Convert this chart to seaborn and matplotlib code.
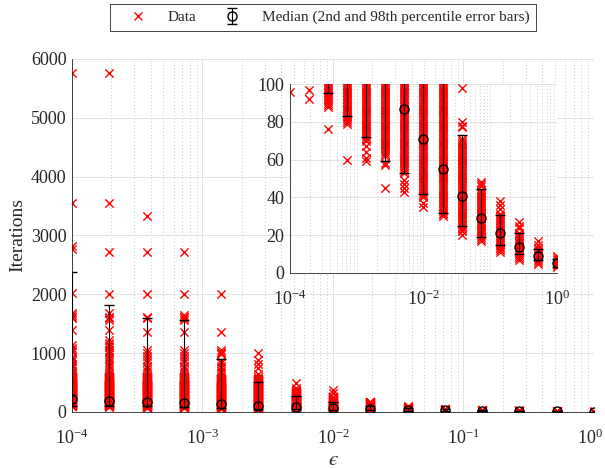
import numpy as np
import pandas as pd
import matplotlib
matplotlib.use('Agg')
import matplotlib.pyplot as plt
import seaborn as sns
from matplotlib.lines import Line2D
from matplotlib.ticker import LogLocator, NullFormatter
from matplotlib.transforms import ScaledTranslation

# Tolerance values (x axis)
eps = [1e-4, 1.93e-4, 3.73e-4, 7.2e-4, 1.39e-3, 2.68e-3, 5.18e-3, 1e-2,
       1.93e-2, 3.73e-2, 7.2e-2, 0.139, 0.268, 0.518, 1.0]

# Range of iteration counts where every integer count shows up (solid red bands)
dense_lo = [104, 103, 88, 79, 70, 62, 53, 40, 32, 24, 17, 11, 7, 5, 3]
dense_hi = [600, 600, 600, 600, 570, 560, 340, 260, 175, 71, 44, 31, 21, 13, 7]

# Isolated runs outside the solid bands
sparse = [
    [96, 630, 660, 700, 740, 780, 820, 860, 900, 940, 1025, 1054, 1088, 1139,
     1394, 1600, 1620, 1650, 1680, 2020, 2766, 2822, 3548, 5757],
    [92, 97, 630, 670, 710, 760, 800, 850, 900, 940, 980, 1020, 1060, 1100,
     1139, 1180, 1224, 1394, 1560, 1600, 1620, 1680, 2000, 2714, 3548, 5757],
    [76, 640, 690, 740, 790, 850, 900, 950, 1000, 1050, 1365, 1600, 1620,
     2000, 2714, 3338],
    [60, 640, 690, 740, 790, 850, 900, 950, 1000, 1050, 1365, 1560, 1600,
     1620, 1650, 2000, 2714],
    [59, 61, 64, 67, 620, 660, 700, 740, 790, 830, 870, 980, 1000, 1020,
     1050, 1365, 2000],
    [45, 57, 58, 600, 650, 754, 821, 884, 1000],
    [43, 45, 47, 49, 380, 403, 488],
    [35, 37, 317, 374],
    [30, 31],
    [20, 22, 23, 77, 78, 80, 98],
    [46, 47, 48],
    [34, 36, 38],
    [24, 25, 27],
    [15, 17],
    [8, 9],
]

# Median and 2nd / 98th percentiles
medians = [221, 193, 164, 147, 130, 105, 87, 71, 55, 41, 29, 21, 14, 9, 5.5]
p2 = [107, 104, 95, 83, 72, 59, 53, 42, 32, 25, 19, 15, 10, 7, 3.3]
p98 = [2375, 1810, 1603, 1570, 901, 516, 272, 165, 101, 73, 44.4, 30.7, 21, 12.5, 7.5]

rows = []
for e, lo, hi, extra in zip(eps, dense_lo, dense_hi, sparse):
    for v in list(range(lo, hi + 1)) + extra:
        rows.append((e, v))
df = pd.DataFrame(rows, columns=['eps', 'iters'])

sns.set_style('white')
plt.rcParams['font.family'] = ['Liberation Serif', 'DejaVu Serif']
plt.rcParams['mathtext.fontset'] = 'custom'
plt.rcParams['mathtext.rm'] = 'Liberation Serif'
plt.rcParams['mathtext.it'] = 'Liberation Serif:italic'
plt.rcParams['mathtext.fallback'] = 'stix'

dark = '#262626'
med = np.array(medians)
yerr = [med - np.array(p2), np.array(p98) - med]

fig = plt.figure(figsize=(6.05, 4.68), dpi=100)
ax = fig.add_axes([0.119, 0.1197, 0.8628, 0.7543])
ins = fig.add_axes([0.4793, 0.4167, 0.4413, 0.4038])
ins.set_zorder(3)
ins.set_facecolor('white')


def draw(a):
    sns.scatterplot(data=df, x='eps', y='iters', ax=a, marker='x', color='red',
                    s=36, linewidth=1.0, legend=False, zorder=2)
    eb = a.errorbar(eps, medians, yerr=yerr, fmt='o', mfc='none', mec='k',
                    ms=6.5, mew=1.0, ecolor='k', elinewidth=0.8, capsize=3.8,
                    capthick=1.0, zorder=3)
    a.set_xscale('log')
    a.set_xlim(1e-4, 1)
    a.set_xlabel('')
    a.set_ylabel('')
    a.set_axisbelow(True)
    a.grid(True, which='major', color='#dedede', lw=0.6, ls='-')
    a.grid(True, which='minor', axis='x', color='#b8b8b8', lw=0.6, ls=(0, (1, 3)))
    a.grid(False, which='minor', axis='y')
    a.tick_params(which='both', direction='in', top=False, right=False,
                  colors=dark, labelsize=13)
    a.tick_params(which='major', length=4, width=0.6)
    a.tick_params(which='minor', length=2.5, width=0.5)
    a.tick_params(axis='x', pad=12)
    a.tick_params(axis='y', pad=4)
    for s in ['top', 'right']:
        a.spines[s].set_visible(False)
    for s in ['left', 'bottom']:
        a.spines[s].set_color(dark)
        a.spines[s].set_linewidth(0.6)
    return eb


eb = draw(ax)
ax.set_ylim(0, 6000)
ax.set_yticks(range(0, 6001, 1000))
ax.xaxis.set_minor_locator(LogLocator(base=10, subs=np.arange(2, 10), numticks=50))
ax.xaxis.set_minor_formatter(NullFormatter())
ax.set_xlabel('ϵ', fontsize=15, fontfamily='STIXGeneral', fontstyle='italic',
              labelpad=2)
ax.set_ylabel('Iterations', fontsize=14, labelpad=3)

draw(ins)
ins.set_ylim(0, 100)
ins.set_yticks(range(0, 101, 20))
ins.set_xticks([1e-4, 1e-2, 1])
ins.xaxis.set_minor_locator(LogLocator(base=10, subs=np.arange(1, 10), numticks=50))
ins.xaxis.set_minor_formatter(NullFormatter())

handles = [Line2D([], [], marker='x', color='red', ls='none', ms=6, mew=1.0), eb]
labels = ['Data', 'Median (2nd and 98th percentile error bars)']
leg = fig.legend(handles, labels, loc='center', bbox_to_anchor=(0.534, 0.9626),
                 ncol=2, frameon=True, fancybox=False, edgecolor=dark,
                 framealpha=1, fontsize=11, handlelength=2.8, handletextpad=0.55,
                 columnspacing=0.95, borderpad=0.4)
leg.get_frame().set_linewidth(0.6)

# keep the 10^0 label of the main axis inside the figure
fig.canvas.draw()
for t in ax.xaxis.get_major_ticks():
    if np.isclose(t.get_loc(), 1.0):
        t.label1.set_transform(t.label1.get_transform() +
                               ScaledTranslation(-3 / 72, 0, fig.dpi_scale_trans))

fig.savefig('out.png', dpi=100)
